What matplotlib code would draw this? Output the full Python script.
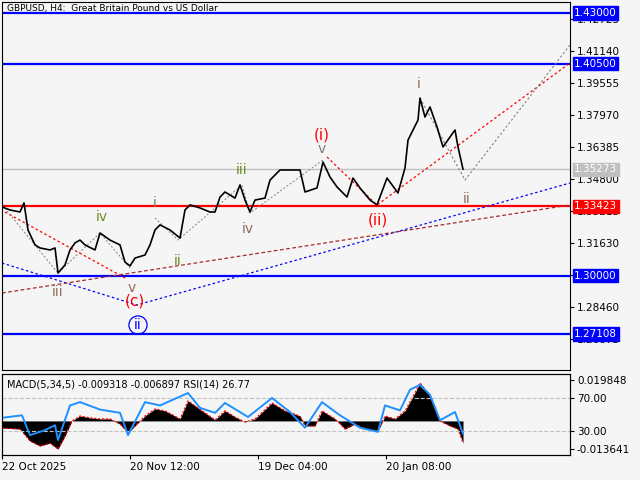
import matplotlib
matplotlib.use("Agg")
import matplotlib.pyplot as plt

# price path (bar position, price)
px = [2,10,20,24,28,35,40,50,55,58,65,70,75,80,85,95,100,110,120,125,130,135,145,150,155,160,170,180,185,190,200,210,215,220,225,235,240,245,250,255,265,270,280,300,305,317,323,330,337,347,353,360,370,377,387,398,405,408,418,420,425,430,437,443,455,458,463]
pp = [1.3340,1.3325,1.3315,1.3360,1.3226,1.3152,1.3137,1.3127,1.3137,1.3013,1.3053,1.3127,1.3162,1.3176,1.3152,1.3127,1.3211,1.3176,1.3152,1.3067,1.3048,1.3087,1.3102,1.3152,1.3226,1.3251,1.3226,1.3186,1.3325,1.3350,1.3335,1.3315,1.3315,1.3389,1.3414,1.3384,1.3449,1.3374,1.3315,1.3374,1.3384,1.3473,1.3523,1.3523,1.3414,1.3434,1.3562,1.3488,1.3439,1.3389,1.3483,1.3434,1.3374,1.3350,1.3483,1.3409,1.3533,1.3671,1.3770,1.3879,1.3785,1.3835,1.3736,1.3637,1.3721,1.3637,1.35273]

blue_levels = [1.43000, 1.40500, 1.30000, 1.27108]
red_level = 1.33423
last_price = 1.35273
yticks = [1.42725,1.41140,1.39555,1.37970,1.36385,1.34800,1.33215,1.31630,1.30045,1.28460,1.26875]

macd_x = [2,20,30,40,50,58,65,72,80,90,100,110,120,128,135,145,155,165,180,188,195,205,215,225,235,245,255,272,285,300,305,315,322,335,345,355,365,378,385,395,405,415,420,430,440,450,458,463]
macd_h = [-3.4,-3.9,-9.7,-12.1,-10.7,-13.6,-7.3,0,2.4,1.5,1.0,1.0,-1.5,-5.8,-2.4,2.4,5.8,4.9,1.0,9.7,7.3,3.9,0.5,4.9,1.9,-0.5,1.0,8.7,4.9,2.4,-2.4,-2.4,4.9,1.0,-3.9,-1.5,-3.9,-4.9,2.4,1.0,4.9,13.6,18.4,12.1,0,-2.4,-3.9,-10.7]
rsi_x = [2,22,30,45,55,58,70,80,100,120,128,145,160,188,200,215,225,248,272,290,305,322,340,360,378,385,400,410,420,430,440,455,463]
rsi_v = [46,49,25,31,37,19,61,65,56,52,25,65,61,76,58,52,64,47,70,53,34,65,49,34,29,61,55,80,86,74,43,53,26.77]
date_labels = ["22 Oct 2025","20 Nov 12:00","19 Dec 04:00","20 Jan 08:00"]
date_pos = [2,130,258,386]
macd_tick_labels = ["0.019848","-0.013641"]

bg = "#f5f5f5"
fig = plt.figure(figsize=(6.4,4.8), dpi=100, facecolor=bg)
W,H = 640,480
def P(y): return 1.43 - (y-13)*0.000495
ax = fig.add_axes([2/W, 1-370/H, 568/W, 368/H], facecolor=bg)
ax.set_xlim(2,570); ax.set_ylim(P(370), P(2))

for lv in blue_levels:
    ax.axhline(lv, color="#0000ff", lw=1.6, zorder=2)
ax.axhline(red_level, color="#ff0000", lw=1.6, zorder=2)
ax.axhline(last_price, color="#c0c0c0", lw=1, zorder=1)

ax.plot([2,137,570],[P(263),P(305),P(183)], color="#0000ff", ls=(0,(2,2)), lw=0.9)
ax.plot([2,570],[P(293),P(205)], color="#a52a2a", ls=(0,(3,2)), lw=0.9)
ax.plot([5,125],[P(212),P(278)], color="#ff0000", ls=(0,(2,2)), lw=0.9)
ax.plot([327,377,570],[P(157),P(205),P(63)], color="#ff0000", ls=(0,(2,2)), lw=0.9)
ax.plot([420,465,570],[P(98),P(180),P(45)], color="#808080", ls=(0,(2,2)), lw=0.8)
ax.plot([2,58,100,130],[P(205),P(273),P(233),P(268)], color="#808080", ls=(0,(2,2)), lw=0.7)
ax.plot([155,178,242,250,323],[P(218),P(240),P(185),P(213),P(160)], color="#808080", ls=(0,(2,2)), lw=0.7)

ax.plot(px, pp, color="black", lw=1.2, zorder=3)

labels = [("iii",58,292,"#8b6f5c"),("iv",102,217,"#6b8e23"),("v",132,288,"#8b6f5c"),("i",155,203,"#7a7a7a"),
          ("ii",178,261,"#6b8e23"),("iii",242,170,"#6b8e23"),("iv",248,229,"#8b6f5c"),("v",322,149,"#7a7a7a"),
          ("i",419,84,"#8b6f5c"),("ii",467,199,"#8b6f5c")]
for t,x,y,c in labels:
    ax.text(x,P(y),t,color=c,fontsize=10,ha="center",va="center",zorder=5)
for t,x,y in [("(c)",135,301),("(i)",322,135),("(ii)",378,220)]:
    ax.text(x,P(y),t,color="#ff0000",fontsize=11,ha="center",va="center",zorder=5)
ax.text(138,P(325),"ii",color="#0000ff",fontsize=10,ha="center",va="center",zorder=5,
        bbox=dict(boxstyle="circle,pad=0.15",fc="none",ec="#0000ff",lw=0.9))
ax.text(0.008,0.995,"GBPUSD, H4:  Great Britain Pound vs US Dollar",transform=ax.transAxes,fontsize=6.5,va="top")

ax.yaxis.tick_right()
ax.set_yticks(yticks)
ax.set_yticklabels([f"{v:.5f}" for v in yticks], fontsize=7.5)
ax.tick_params(axis="y", length=3, pad=2)
ax.set_xticks([])
for lv,c in [(1.43,"#0000ff"),(1.405,"#0000ff"),(1.30,"#0000ff"),(1.27108,"#0000ff"),(red_level,"#ff0000"),(last_price,"#c0c0c0")]:
    ax.annotate(f"{lv:.5f}",xy=(1.0,lv),xycoords=("axes fraction","data"),xytext=(3,0),textcoords="offset points",
                fontsize=7.5,color="white",va="center",ha="left",annotation_clip=False,zorder=10,
                bbox=dict(boxstyle="square,pad=0.15",fc=c,ec=c))

# indicator panel
ax2 = fig.add_axes([2/W, 1-455/H, 568/W, 81/H], facecolor=bg)
ax2.set_xlim(2,570)
ax2.set_ylim(-0.013641-0.0028, 0.019848+0.0028)
ax2.fill_between(macd_x,[v*0.001 for v in macd_h],0,color="black",lw=0)
ax2.plot(macd_x,[v*0.001 for v in macd_h],color="#ff0000",ls=(0,(2,1.5)),lw=0.8)
ax2.set_yticks([])
ax2.set_xticks(date_pos); ax2.set_xticklabels(date_labels,fontsize=7.5,ha="left")
ax2.tick_params(axis="x",length=3,pad=2)
ax3 = ax2.twinx()
lo, hi = 30-(455-431)/0.825, 70+(398-374)/0.825
ax3.set_ylim(lo, hi)
ax3.axhline(70,color="#c0c0c0",ls="--",lw=0.8); ax3.axhline(30,color="#c0c0c0",ls="--",lw=0.8)
ax3.plot(rsi_x,rsi_v,color="#1e90ff",lw=1.4)
m_top = 70+(398-380)/0.825
m_bot = 30-(449-431)/0.825
ax3.set_yticks([m_top,70,30,m_bot])
ax3.set_yticklabels([macd_tick_labels[0],"70.00","30.00",macd_tick_labels[1]],fontsize=7.5)
ax3.tick_params(axis="y",length=3,pad=2)
ax3.set_xlim(2,570)
ax2.text(0.008,0.93,"MACD(5,34,5) -0.009318 -0.006897 RSI(14) 26.77",transform=ax2.transAxes,fontsize=7,va="top",zorder=10)
fig.savefig("out.png",dpi=100,facecolor=bg)
